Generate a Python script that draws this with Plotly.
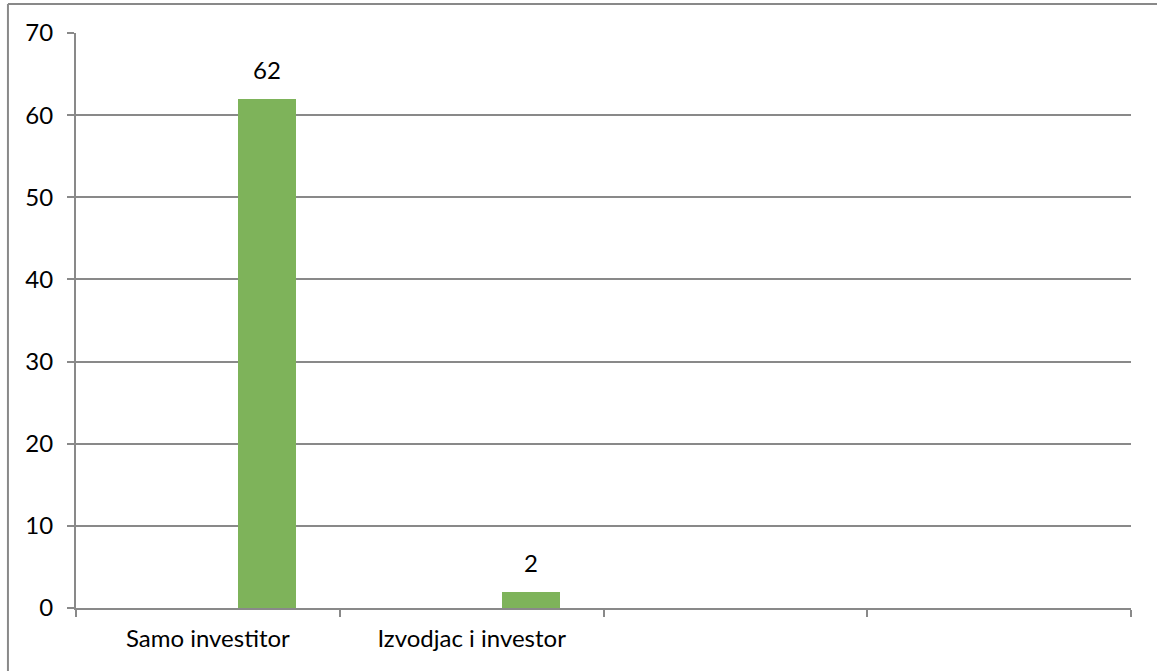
import plotly.graph_objects as go

# Respondent categories (the last two slots are empty on the axis)
categories = ["Samo investitor", "Izvodjac i investor", " ", "  "]
counts = [62, 2, None, None]

y_ticks = [0, 10, 20, 30, 40, 50, 60, 70]

BAR_COLOR = "#7EB35A"
GRID = "#898989"
FONT = "Lato"
FONT_SIZE = 24

# bar sits to the right of each category centre
bar_offset = 0.114
bar_width = 0.22

fig = go.Figure()
fig.add_trace(go.Bar(
    x=categories,
    y=counts,
    marker=dict(color=BAR_COLOR, line=dict(width=0)),
    offset=bar_offset,
    width=bar_width,
    showlegend=False,
    hoverinfo="skip",
))

# value labels above the bars
for i, v in enumerate(counts):
    if v is None:
        continue
    fig.add_annotation(
        x=i + bar_offset + bar_width / 2, y=v, xref="x", yref="y",
        text=str(v), showarrow=False, yanchor="bottom", yshift=13,
        font=dict(family=FONT, size=FONT_SIZE, color="#000000"),
    )

# outer chart frame (left and top edges visible)
fig.add_shape(type="line", xref="paper", yref="paper",
              x0=-0.0645, x1=-0.0645, y0=1.0504, y1=-0.2,
              line=dict(color=GRID, width=2))
fig.add_shape(type="line", xref="paper", yref="paper",
              x0=-0.0645, x1=1.05, y0=1.0504, y1=1.0504,
              line=dict(color=GRID, width=2))

fig.update_layout(
    width=1157, height=671,
    margin=dict(l=76, r=26, t=33, b=63),
    paper_bgcolor="white", plot_bgcolor="white",
    font=dict(family=FONT, size=FONT_SIZE, color="#000000"),
    bargap=0,
)
fig.update_xaxes(
    type="category",
    categoryorder="array", categoryarray=categories,
    range=[-0.5, 3.5],
    showgrid=False,
    showline=True, linecolor=GRID, linewidth=2,
    ticks="outside", tickson="boundaries", ticklen=7, tickcolor=GRID, tickwidth=2,
    ticklabelstandoff=8,
    tickfont=dict(family=FONT, size=FONT_SIZE, color="#000000"),
    zeroline=False,
)
fig.update_yaxes(
    range=[0, 70],
    tickvals=y_ticks,
    showgrid=True, gridcolor=GRID, gridwidth=2,
    showline=True, linecolor=GRID, linewidth=2,
    ticks="outside", ticklen=7, tickcolor=GRID, tickwidth=2,
    ticklabelstandoff=9,
    tickfont=dict(family=FONT, size=FONT_SIZE, color="#000000"),
    zeroline=False,
)

fig.write_html("out.html")
